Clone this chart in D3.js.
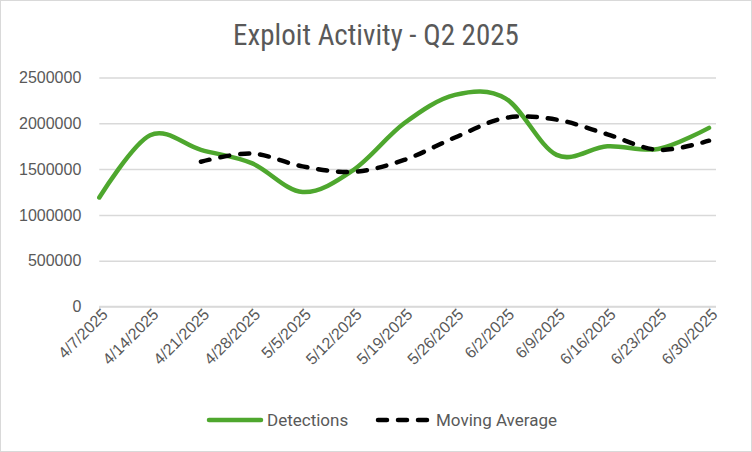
<!DOCTYPE html>
<head>
  <meta charset="UTF-8">
  <title>Exploit Activity - Q2 2025</title>
  <style>
    body { margin: 0; background: #fff; }
    svg { display: block; }
  </style>
</head>
<body>
  <script src="https://d3js.org/d3.v7.min.js"></script>
  <script>
    // datos
    const categories = ["4/7/2025", "4/14/2025", "4/21/2025", "4/28/2025", "5/5/2025", "5/12/2025",
      "5/19/2025", "5/26/2025", "6/2/2025", "6/9/2025", "6/16/2025", "6/23/2025", "6/30/2025"];
    const detections = [1190000, 1870000, 1710000, 1565000, 1250000, 1490000,
      2000000, 2310000, 2270000, 1655000, 1750000, 1720000, 1950000];
    const movingAvg = [null, null, 1580000, 1670000, 1530000, 1470000,
      1600000, 1845000, 2060000, 2040000, 1880000, 1710000, 1810000];
    const yTicks = [0, 500000, 1000000, 1500000, 2000000, 2500000];
    const seriesNames = ["Detections", "Moving Average"];

    const width = 752;
    const height = 452;
    const plot = { left: 99.3, right: 709, gridRight: 716, top: 77.5, bottom: 306.5 };
    const grey = "#595959";
    const green = "#4ea72e";

    const svg = d3.select("body").append("svg")
      .attr("width", width)
      .attr("height", height);

    // borde del grafico
    svg.append("rect")
      .attr("x", 0.5).attr("y", 0.5)
      .attr("width", width - 1).attr("height", height - 1)
      .attr("fill", "#fff")
      .attr("stroke", "#d9d9d9");

    const x = d3.scalePoint().domain(categories).range([plot.left, plot.right]);
    const y = d3.scaleLinear().domain([0, 2500000]).range([plot.bottom, plot.top]);

    // titulo
    svg.append("text")
      .attr("x", 376)
      .attr("y", 45)
      .attr("text-anchor", "middle")
      .attr("fill", grey)
      .attr("font-family", "'Liberation Sans Narrow', 'Roboto Condensed', Roboto, sans-serif")
      .attr("font-size", "29px")
      .text("Exploit Activity - Q2 2025");

    // eje y con lineas de cuadricula
    const yAxis = svg.append("g")
      .attr("transform", `translate(${plot.left},0)`)
      .call(d3.axisLeft(y).tickValues(yTicks).tickSize(-(plot.gridRight - plot.left)).tickPadding(18).tickFormat(d3.format("d")));
    yAxis.select(".domain").remove();
    yAxis.selectAll("line").attr("stroke", "#d9d9d9").attr("stroke-width", 1.5);
    yAxis.selectAll("text")
      .attr("fill", grey)
      .attr("font-family", "'Liberation Sans', Arial, sans-serif")
      .attr("font-size", "16px");

    // eje x
    const xAxis = svg.append("g")
      .attr("transform", `translate(0,${plot.bottom})`)
      .call(d3.axisBottom(x).tickSize(5).tickSizeOuter(0));
    xAxis.select(".domain")
      .attr("d", `M${plot.left},0H${plot.gridRight}`)
      .attr("stroke", "#d9d9d9").attr("stroke-width", 1.5);
    xAxis.selectAll("line").attr("stroke", "#d9d9d9").attr("stroke-width", 1.5);
    xAxis.selectAll("text")
      .attr("fill", grey)
      .attr("font-family", "'Liberation Sans', Arial, sans-serif")
      .attr("font-size", "16px")
      .attr("text-anchor", "end")
      .attr("dy", "0.35em")
      .attr("transform", "translate(5,5) rotate(-45)")
      .attr("x", 0).attr("y", 0);

    const line = d3.line()
      .defined(d => d != null)
      .x((d, i) => x(categories[i]))
      .y(d => y(d))
      .curve(d3.curveCardinal.tension(0));

    svg.append("path")
      .attr("d", line(detections))
      .attr("fill", "none")
      .attr("stroke", green)
      .attr("stroke-width", 4.5)
      .attr("stroke-linecap", "round")
      .attr("stroke-linejoin", "round");

    const maLine = d3.line()
      .x(d => x(d.cat))
      .y(d => y(d.v))
      .curve(d3.curveCardinal.tension(0));
    const maData = movingAvg.map((v, i) => ({ cat: categories[i], v: v })).filter(d => d.v != null);

    svg.append("path")
      .attr("d", maLine(maData))
      .attr("fill", "none")
      .attr("stroke", "#000")
      .attr("stroke-width", 4.5)
      .attr("stroke-dasharray", "9 11")
      .attr("stroke-linecap", "round")
      .attr("stroke-linejoin", "round");

    // leyenda
    const legendItems = [
      { name: seriesNames[0], x: 209, color: green, dash: null },
      { name: seriesNames[1], x: 378, color: "#000", dash: "9 11" }
    ];
    const legend = svg.append("g");
    legendItems.forEach(function (d) {
      legend.append("line")
        .attr("x1", d.x).attr("x2", d.x + 52)
        .attr("y1", 420).attr("y2", 420)
        .attr("stroke", d.color)
        .attr("stroke-width", 4.5)
        .attr("stroke-linecap", "round")
        .attr("stroke-dasharray", d.dash);
      legend.append("text")
        .attr("x", d.x + 58)
        .attr("y", 426)
        .attr("fill", grey)
        .attr("font-family", "'Liberation Sans Narrow', Roboto, sans-serif")
        .attr("font-size", "17px")
        .text(d.name);
    });
  </script>
</body>
</html>
